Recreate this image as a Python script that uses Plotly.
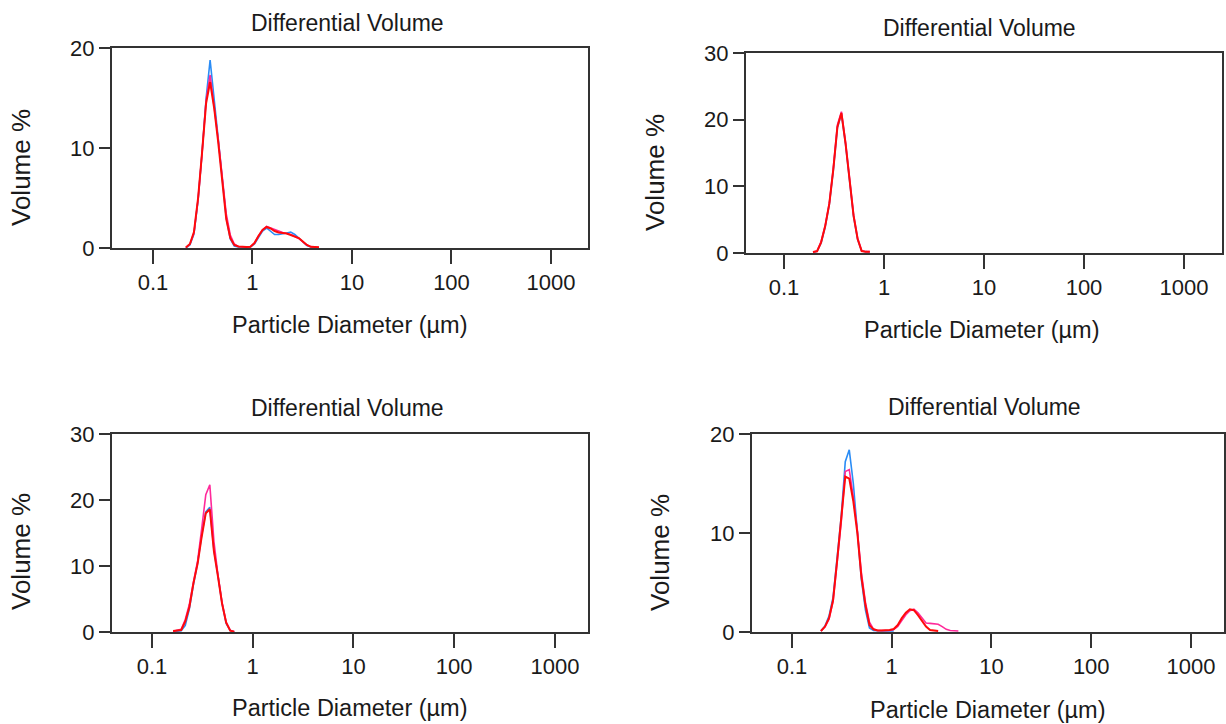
import plotly.graph_objects as go

# ---------------- data ----------------
DIAMETER_UM = [0.148, 0.162, 0.178, 0.195, 0.214, 0.235, 0.258, 0.284, 0.311, 0.342,
               0.375, 0.412, 0.452, 0.496, 0.545, 0.598, 0.656, 0.721, 0.791, 0.868,
               0.953, 1.047, 1.149, 1.261, 1.385, 1.520, 1.668, 1.832, 2.011, 2.207,
               2.423, 2.660, 2.920, 3.206, 3.519, 3.863, 4.241, 4.656, 5.111]

N = None
P1_BLUE = [N, N, N, N, 0.02, 0.3, 1.4, 4.8, 9.5, 15.0, 18.8, 15.2, 11.0, 7.0, 3.0, 0.9, 0.2, 0.1, 0.1, 0.1,
           0.1, 0.4, 1.1, 1.7, 2.0, 1.7, 1.35, 1.35, 1.4, 1.5, 1.6, 1.35, 1.0, 0.6, 0.25, 0.1, 0.05, N, N]
P1_PINK = [N, N, N, N, 0.05, 0.4, 1.5, 4.9, 9.4, 14.8, 17.3, 14.3, 10.9, 7.2, 3.4, 1.3, 0.4, 0.15, 0.1, 0.1,
           0.12, 0.5, 1.2, 1.8, 2.15, 2.0, 1.8, 1.65, 1.55, 1.45, 1.35, 1.15, 0.95, 0.6, 0.3, 0.12, 0.1, 0.08, N]
P1_RED = [N, N, N, N, 0.05, 0.4, 1.6, 5.0, 9.5, 14.5, 16.6, 14.0, 10.6, 6.8, 2.9, 1.0, 0.3, 0.15, 0.1, 0.1,
          0.12, 0.5, 1.2, 1.8, 2.1, 1.95, 1.7, 1.55, 1.5, 1.45, 1.3, 1.15, 1.0, 0.65, 0.3, 0.12, 0.1, 0.08, N]

P2_BLUE = [N, N, N, 0.1, 0.25, 1.5, 3.9, 7.3, 12.4, 18.8, 20.9, 16.4, 10.9, 5.5, 2.0, 0.3, 0.2, 0.15, N, N,
           N, N, N, N, N, N, N, N, N, N, N, N, N, N, N, N, N, N, N]
P2_PINK = [N, N, N, 0.15, 0.3, 1.7, 4.1, 7.5, 12.7, 19.2, 21.2, 16.7, 11.2, 5.8, 2.2, 0.35, 0.2, 0.2, N, N,
           N, N, N, N, N, N, N, N, N, N, N, N, N, N, N, N, N, N, N]
P2_RED = [N, N, N, 0.15, 0.25, 1.6, 4.0, 7.4, 12.5, 18.9, 21.0, 16.5, 11.0, 5.6, 2.1, 0.3, 0.2, 0.2, N, N,
          N, N, N, N, N, N, N, N, N, N, N, N, N, N, N, N, N, N, N]

P3_BLUE = [N, 0.05, 0.1, 0.2, 1.0, 3.5, 7.2, 10.5, 14.6, 18.2, 18.9, 12.4, 8.5, 4.3, 1.3, 0.2, 0.05, N, N, N,
           N, N, N, N, N, N, N, N, N, N, N, N, N, N, N, N, N, N, N]
P3_PINK = [N, 0.1, 0.2, 0.4, 1.9, 4.2, 7.6, 10.8, 15.6, 20.8, 22.3, 13.7, 8.6, 4.5, 1.5, 0.25, 0.05, N, N, N,
           N, N, N, N, N, N, N, N, N, N, N, N, N, N, N, N, N, N, N]
P3_RED = [N, 0.15, 0.2, 0.3, 1.6, 3.8, 7.4, 10.4, 14.4, 18.0, 18.6, 12.2, 8.4, 4.3, 1.4, 0.2, 0.05, N, N, N,
          N, N, N, N, N, N, N, N, N, N, N, N, N, N, N, N, N, N, N]

P4_BLUE = [N, N, N, 0.1, 0.6, 1.6, 3.5, 7.6, 11.6, 17.2, 18.4, 15.0, 10.0, 5.3, 2.2, 0.4, 0.15, 0.1, 0.1, 0.1,
           0.1, 0.1, N, N, N, N, N, N, N, N, N, N, N, N, N, N, N, N, N]
P4_PINK = [N, N, N, 0.1, 0.5, 1.3, 3.1, 7.1, 11.0, 16.2, 16.4, 13.6, 10.3, 6.0, 3.0, 1.0, 0.3, 0.15, 0.15, 0.15,
           0.15, 0.25, 0.55, 1.15, 1.75, 2.15, 2.3, 1.95, 1.4, 0.9, 0.87, 0.8, 0.78, 0.55, 0.27, 0.15, 0.15, 0.1, N]
P4_RED = [N, N, N, 0.1, 0.55, 1.4, 3.2, 7.3, 11.1, 15.7, 15.5, 13.2, 10.0, 5.6, 2.7, 0.7, 0.27, 0.15, 0.15, 0.15,
          0.2, 0.3, 0.7, 1.4, 1.95, 2.3, 2.2, 1.7, 1.15, 0.55, 0.2, 0.15, 0.1, N, N, N, N, N, N]

X_TICK_VALUES = [0.1, 1, 10, 100, 1000]
X_TICK_LABELS = ["0.1", "1", "10", "100", "1000"]
Y_TICKS_20 = [0, 10, 20]
Y_TICKS_30 = [0, 10, 20, 30]
PANEL_TITLE = "Differential Volume"
X_TITLE = "Particle Diameter (µm)"
Y_TITLE = "Volume %"

# ---------------- style / layout ----------------
W, H = 1226, 724
FONT = "Liberation Sans, Arial, sans-serif"
TXT = "#1a1a1a"
FRAME = "#333333"
COLORS = ["#2a8cf5", "#ff2a9a", "#ff0a0a"]
WIDTHS = [1.6, 1.6, 2.0]

panels = [
    dict(series=(P1_BLUE, P1_PINK, P1_RED), box=(112, 48, 588, 248), xr=(-1.412, 3.372),
         ymax=20, yticks=Y_TICKS_20, t=(347, 23), xt=(350, 325), yt=(21, 168)),
    dict(series=(P2_BLUE, P2_PINK, P2_RED), box=(746, 53, 1222, 253), xr=(-1.38, 3.38),
         ymax=30, yticks=Y_TICKS_30, t=(979, 28), xt=(982, 330), yt=(655, 173)),
    dict(series=(P3_BLUE, P3_PINK, P3_RED), box=(112, 434, 588, 632), xr=(-1.397, 3.328),
         ymax=30, yticks=Y_TICKS_30, t=(347, 408), xt=(350, 708), yt=(21, 552)),
    dict(series=(P4_BLUE, P4_PINK, P4_RED), box=(752, 434, 1224, 632), xr=(-1.401, 3.331),
         ymax=20, yticks=Y_TICKS_20, t=(984, 407), xt=(988, 710), yt=(660, 553)),
]

fig = go.Figure()
annotations = []
layout_axes = {}

# invisible full-figure pixel frame used to place the text labels
fig.add_trace(go.Scatter(x=[None], y=[None], xaxis="x5", yaxis="y5", showlegend=False,
                         hoverinfo="skip"))
layout_axes["xaxis5"] = dict(domain=[0, 1], range=[0, W], visible=False, anchor="y5",
                             fixedrange=True, automargin=False)
layout_axes["yaxis5"] = dict(domain=[0, 1], range=[H, 0], visible=False, anchor="x5",
                             fixedrange=True, automargin=False)

for i, p in enumerate(panels, start=1):
    sfx = "" if i == 1 else str(i)
    xa, ya = "x" + sfx, "y" + sfx
    for vals, col, w in zip(p["series"], COLORS, WIDTHS):
        fig.add_trace(go.Scatter(x=DIAMETER_UM, y=vals, mode="lines", xaxis=xa, yaxis=ya,
                                 line=dict(color=col, width=w), connectgaps=False,
                                 showlegend=False, hoverinfo="skip"))
    x0, y0, x1, y1 = p["box"]
    layout_axes["xaxis" + sfx] = dict(
        type="log", range=list(p["xr"]), domain=[x0 / W, x1 / W], anchor=ya,
        tickmode="array", tickvals=X_TICK_VALUES, ticktext=X_TICK_LABELS,
        ticks="outside", ticklen=14, tickwidth=2, tickcolor=FRAME,
        showline=True, linecolor=FRAME, linewidth=2, mirror=True, automargin=False,
        showgrid=False, zeroline=False, tickfont=dict(family=FONT, size=22, color=TXT),
        fixedrange=True)
    layout_axes["yaxis" + sfx] = dict(
        range=[0, p["ymax"]], domain=[1 - y1 / H, 1 - y0 / H], anchor=xa,
        tickmode="array", tickvals=p["yticks"], ticktext=[str(v) for v in p["yticks"]],
        ticks="outside", ticklen=11, tickwidth=2, tickcolor=FRAME,
        showline=True, linecolor=FRAME, linewidth=2, mirror=True, automargin=False,
        showgrid=False, zeroline=False, tickfont=dict(family=FONT, size=22, color=TXT),
        fixedrange=True)
    for txt, pos, size, ang in ((PANEL_TITLE, p["t"], 23, 0), (X_TITLE, p["xt"], 23.5, 0),
                                (Y_TITLE, p["yt"], 26, -90)):
        annotations.append(dict(text=txt, x=pos[0], y=pos[1], xref="x5", yref="y5",
                                xanchor="center", yanchor="middle", textangle=ang,
                                showarrow=False, font=dict(family=FONT, size=size, color=TXT)))

fig.update_layout(width=W, height=H, margin=dict(l=0, r=0, t=0, b=0, autoexpand=False),
                  paper_bgcolor="white", plot_bgcolor="rgba(0,0,0,0)", template="none",
                  annotations=annotations, **layout_axes)

fig.write_html("out.html", config={"displayModeBar": False})
